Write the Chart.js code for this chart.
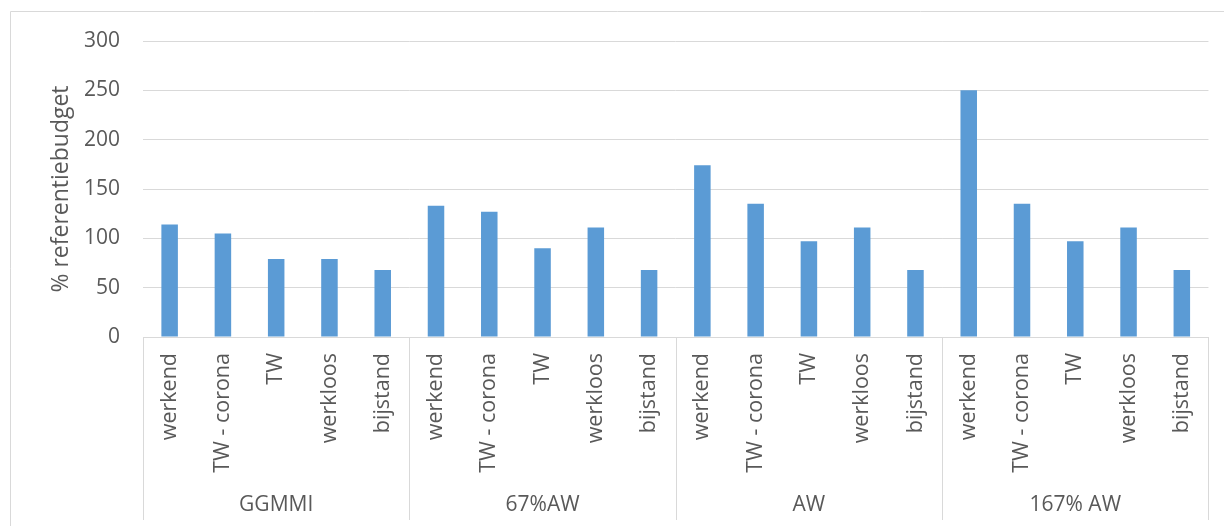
<!DOCTYPE html>
<html>
<head>
<meta charset="utf-8">
<script src="https://cdn.jsdelivr.net/npm/chart.js@4"></script>
<style>
  html, body { margin: 0; padding: 0; background: #ffffff; }
  #wrap { position: relative; width: 1224px; height: 526px; }
  canvas { display: block; }
</style>
</head>
<body>
<div id="wrap"><canvas id="c" width="1224" height="526"></canvas></div>
<script>
// ---- data ----
const groups = ['GGMMI', '67%AW', 'AW', '167% AW'];
const subcategories = ['werkend', 'TW - corona', 'TW', 'werkloos', 'bijstand'];
const valuesGGMMI = [114, 105, 79, 79, 68];
const values67AW = [133, 127, 90, 111, 68];
const valuesAW = [174, 135, 97, 111, 68];
const values167AW = [250, 135, 97, 111, 68];
const yTicks = [0, 50, 100, 150, 200, 250, 300];
const yTitle = '% referentiebudget';

const groupValues = [valuesGGMMI, values67AW, valuesAW, values167AW];
const labels = [];
const values = [];
groups.forEach((g, gi) => {
  subcategories.forEach((s, si) => {
    labels.push(s);
    values.push(groupValues[gi][si]);
  });
});

const FONT = "'Open Sans', 'Noto Sans', sans-serif";
const TEXT = '#595959';
const GRID = '#D9D9D9';

const framePlugin = {
  id: 'frame',
  beforeDraw(chart) {
    const ctx = chart.ctx;
    ctx.save();
    ctx.strokeStyle = GRID;
    ctx.lineWidth = 1;
    ctx.beginPath();
    ctx.moveTo(10.5, 526);
    ctx.lineTo(10.5, 11.5);
    ctx.lineTo(1224, 11.5);
    ctx.stroke();
    ctx.restore();
  },
  afterDraw(chart) {
    const ctx = chart.ctx;
    const x = chart.scales.x;
    const area = chart.chartArea;
    const n = subcategories.length;
    ctx.save();
    ctx.strokeStyle = GRID;
    ctx.lineWidth = 1;
    const bounds = [];
    for (let g = 0; g <= groups.length; g++) {
      let px;
      if (g === 0) px = area.left;
      else if (g === groups.length) px = area.right;
      else px = (x.getPixelForValue(g * n - 1) + x.getPixelForValue(g * n)) / 2;
      bounds.push(px);
      const xx = Math.round(px) + 0.5;
      ctx.beginPath();
      ctx.moveTo(xx, area.bottom);
      ctx.lineTo(xx, 520);
      ctx.stroke();
    }
    ctx.fillStyle = TEXT;
    ctx.font = "21px " + FONT;
    ctx.textAlign = 'center';
    ctx.textBaseline = 'middle';
    groups.forEach((g, i) => {
      ctx.fillText(g, (bounds[i] + bounds[i + 1]) / 2, 505);
    });
    ctx.restore();
  }
};

new Chart(document.getElementById('c'), {
  type: 'bar',
  data: {
    labels: labels,
    datasets: [{
      data: values,
      backgroundColor: '#5B9BD5',
      borderWidth: 0,
      categoryPercentage: 1.0,
      barPercentage: 0.31
    }]
  },
  options: {
    responsive: false,
    animation: false,
    devicePixelRatio: 1,
    layout: { padding: { left: 0, right: 15, top: 41, bottom: 0 } },
    plugins: { legend: { display: false }, tooltip: { enabled: false } },
    scales: {
      x: {
        grid: { display: false, drawTicks: false },
        border: { display: true, color: GRID, width: 1 },
        ticks: {
          color: TEXT,
          font: { family: FONT, size: 21.5 },
          maxRotation: 90,
          minRotation: 90,
          padding: 16,
          autoSkip: false
        },
        afterFit(scale) { scale.height = 526 - 337; }
      },
      y: {
        min: 0,
        max: 300,
        afterBuildTicks(scale) { scale.ticks = yTicks.map(v => ({ value: v })); },
        grid: { color: GRID, lineWidth: 1, drawTicks: false },
        border: { display: false },
        ticks: {
          color: TEXT,
          font: { family: FONT, size: 21 },
          padding: 23
        },
        title: {
          display: true,
          text: yTitle,
          color: TEXT,
          font: { family: FONT, size: 23 },
          padding: { top: 48, bottom: 0 }
        },
        afterFit(scale) { scale.width = 143; }
      }
    }
  },
  plugins: [framePlugin]
});
</script>
</body>
</html>
